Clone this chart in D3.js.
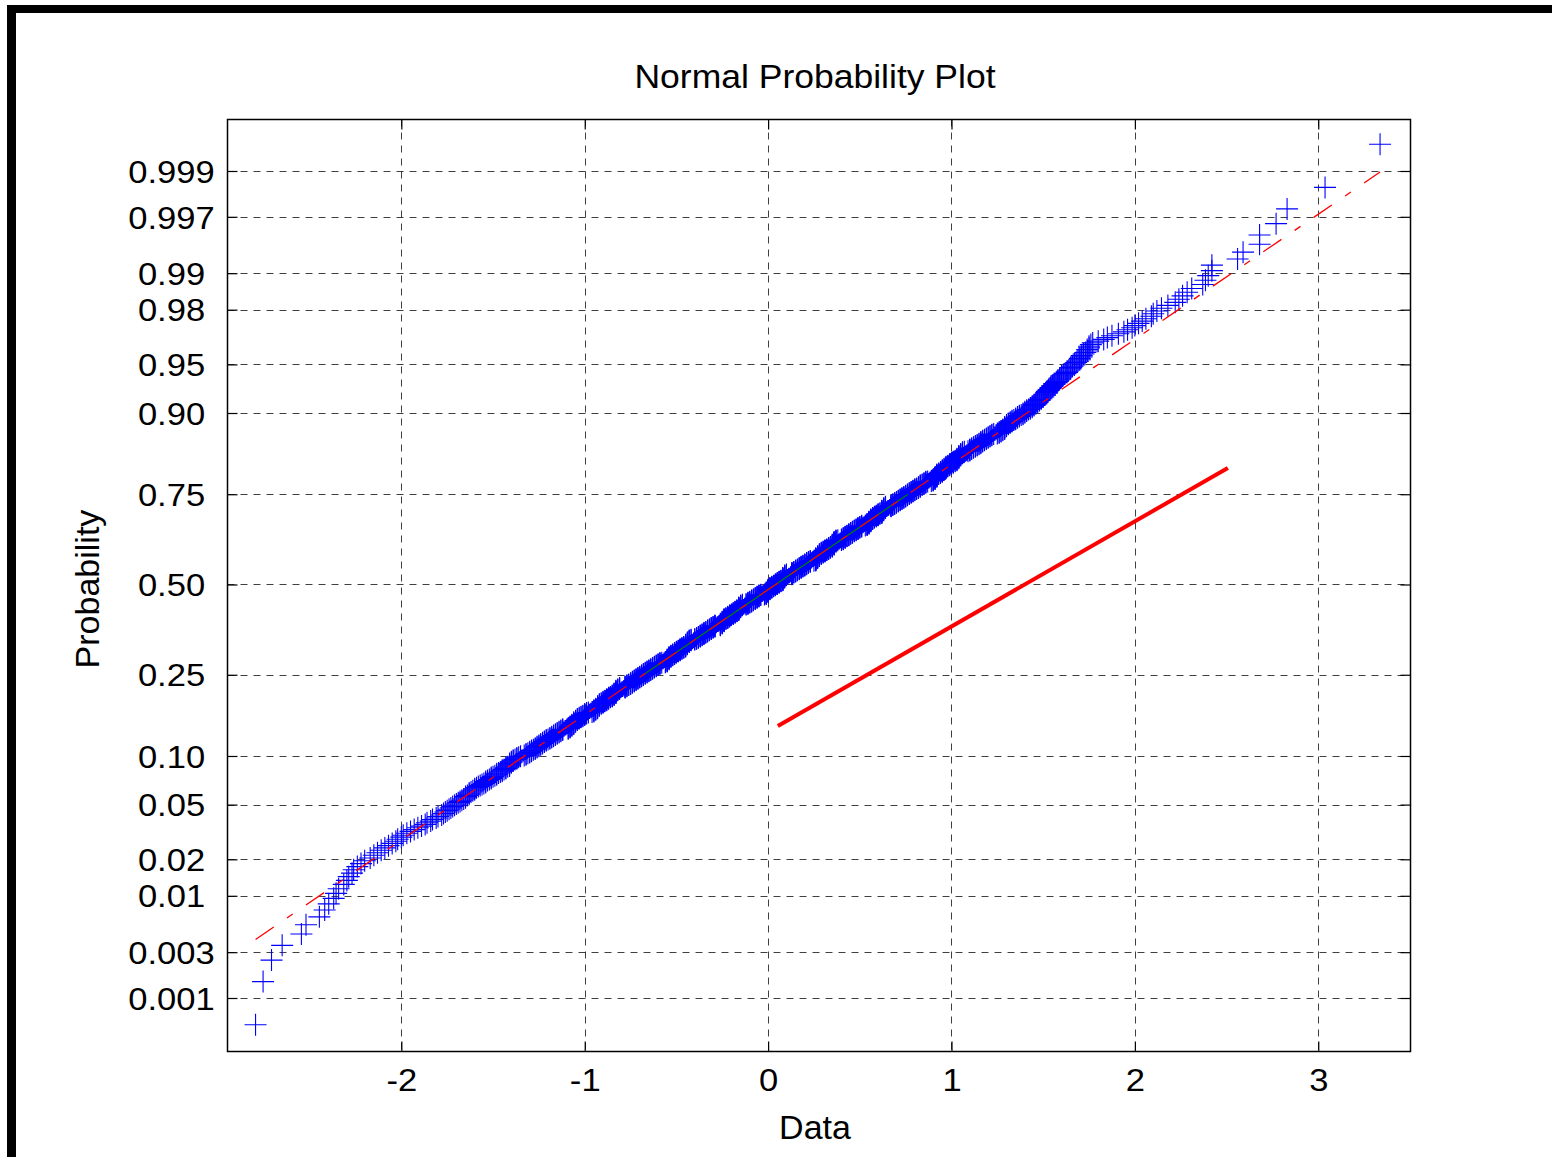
<!DOCTYPE html>
<html><head><meta charset="utf-8">
<script src="https://cdn.jsdelivr.net/npm/d3@7"></script>
<style>
body{margin:0;background:#fff}
svg{display:block}
text{font-family:"Liberation Sans",Arial,Helvetica,sans-serif;fill:#000}
</style>
</head><body>
<svg id="chart" width="1552" height="1157"></svg>
<script>
// ---- data (sample, n = 1000) ----
const sampleData = [
-2.795,-2.754,-2.708,-2.650,-2.545,-2.520,-2.447,-2.418,-2.396,-2.369,
-2.356,-2.342,-2.314,-2.297,-2.287,-2.269,-2.260,-2.24,-2.22,-2.20,
-2.17,-2.15,-2.13,-2.11,-2.09,-2.07,-2.05,-2.03,-2.02,-2.00,
-1.99,-1.97,-1.95,-1.93,-1.91,-1.89,-1.87,-1.86,-1.84,-1.83,
-1.81,-1.80,-1.78,-1.77,-1.76,-1.75,-1.74,-1.73,-1.72,-1.71,
-1.70,-1.69,-1.68,-1.67,-1.66,-1.65,-1.65,-1.64,-1.63,-1.63,
-1.62,-1.61,-1.60,-1.60,-1.59,-1.58,-1.57,-1.56,-1.55,-1.54,
-1.54,-1.53,-1.52,-1.51,-1.51,-1.50,-1.49,-1.48,-1.48,-1.47,
-1.46,-1.45,-1.45,-1.44,-1.43,-1.43,-1.42,-1.41,-1.41,-1.40,
-1.41,-1.41,-1.40,-1.39,-1.39,-1.38,-1.37,-1.37,-1.36,-1.35,
-1.33,-1.32,-1.32,-1.31,-1.30,-1.30,-1.29,-1.29,-1.28,-1.27,
-1.27,-1.26,-1.26,-1.25,-1.25,-1.24,-1.24,-1.23,-1.23,-1.22,
-1.22,-1.21,-1.21,-1.20,-1.19,-1.19,-1.18,-1.18,-1.17,-1.17,
-1.16,-1.16,-1.15,-1.15,-1.14,-1.14,-1.13,-1.13,-1.12,-1.12,
-1.09,-1.09,-1.08,-1.08,-1.08,-1.07,-1.07,-1.06,-1.06,-1.05,
-1.07,-1.06,-1.06,-1.05,-1.05,-1.04,-1.04,-1.04,-1.03,-1.03,
-1.02,-1.02,-1.01,-1.01,-1.00,-1.00,-1.00,-0.99,-0.99,-0.98,
-0.96,-0.95,-0.95,-0.95,-0.94,-0.94,-0.93,-0.93,-0.93,-0.92,
-0.94,-0.93,-0.93,-0.92,-0.92,-0.92,-0.91,-0.91,-0.90,-0.90,
-0.90,-0.89,-0.89,-0.88,-0.88,-0.88,-0.87,-0.87,-0.87,-0.86,
-0.86,-0.85,-0.85,-0.85,-0.84,-0.84,-0.83,-0.83,-0.83,-0.82,
-0.84,-0.84,-0.83,-0.83,-0.83,-0.82,-0.82,-0.81,-0.81,-0.81,
-0.78,-0.78,-0.78,-0.77,-0.77,-0.77,-0.76,-0.76,-0.75,-0.75,
-0.75,-0.74,-0.74,-0.74,-0.73,-0.73,-0.73,-0.72,-0.72,-0.72,
-0.71,-0.71,-0.71,-0.70,-0.70,-0.70,-0.69,-0.69,-0.69,-0.68,
-0.68,-0.68,-0.67,-0.67,-0.67,-0.66,-0.66,-0.66,-0.65,-0.65,
-0.65,-0.64,-0.64,-0.64,-0.63,-0.63,-0.63,-0.62,-0.62,-0.62,
-0.61,-0.61,-0.61,-0.60,-0.60,-0.60,-0.59,-0.59,-0.59,-0.58,
-0.56,-0.56,-0.55,-0.55,-0.55,-0.55,-0.54,-0.54,-0.54,-0.53,
-0.55,-0.55,-0.54,-0.54,-0.54,-0.53,-0.53,-0.53,-0.52,-0.52,
-0.52,-0.51,-0.51,-0.51,-0.51,-0.50,-0.50,-0.50,-0.49,-0.49,
-0.49,-0.48,-0.48,-0.48,-0.48,-0.47,-0.47,-0.47,-0.46,-0.46,
-0.46,-0.45,-0.45,-0.45,-0.45,-0.44,-0.44,-0.44,-0.43,-0.43,
-0.45,-0.45,-0.44,-0.44,-0.44,-0.43,-0.43,-0.43,-0.42,-0.42,
-0.40,-0.40,-0.39,-0.39,-0.39,-0.38,-0.38,-0.38,-0.37,-0.37,
-0.37,-0.37,-0.36,-0.36,-0.36,-0.35,-0.35,-0.35,-0.35,-0.34,
-0.34,-0.34,-0.33,-0.33,-0.33,-0.33,-0.32,-0.32,-0.32,-0.31,
-0.31,-0.31,-0.31,-0.30,-0.30,-0.30,-0.29,-0.29,-0.29,-0.29,
-0.26,-0.26,-0.26,-0.26,-0.25,-0.25,-0.25,-0.24,-0.24,-0.24,
-0.26,-0.25,-0.25,-0.25,-0.24,-0.24,-0.24,-0.24,-0.23,-0.23,
-0.23,-0.22,-0.22,-0.22,-0.22,-0.21,-0.21,-0.21,-0.21,-0.20,
-0.20,-0.20,-0.19,-0.19,-0.19,-0.19,-0.18,-0.18,-0.18,-0.18,
-0.17,-0.17,-0.17,-0.16,-0.16,-0.16,-0.16,-0.15,-0.15,-0.15,
-0.17,-0.16,-0.16,-0.16,-0.16,-0.15,-0.15,-0.15,-0.14,-0.14,
-0.12,-0.12,-0.11,-0.11,-0.11,-0.11,-0.10,-0.10,-0.10,-0.09,
-0.09,-0.09,-0.09,-0.08,-0.08,-0.08,-0.07,-0.07,-0.07,-0.07,
-0.06,-0.06,-0.06,-0.06,-0.05,-0.05,-0.05,-0.05,-0.04,-0.04,
-0.02,-0.01,-0.01,-0.01,-0.01,0.00,0.00,0.00,0.00,0.01,
-0.01,-0.01,0.00,0.00,0.00,0.00,0.01,0.01,0.01,0.01,
0.02,0.02,0.02,0.02,0.03,0.03,0.03,0.04,0.04,0.04,
0.04,0.05,0.05,0.05,0.05,0.06,0.06,0.06,0.06,0.07,
0.07,0.07,0.08,0.08,0.08,0.08,0.09,0.09,0.09,0.09,
0.08,0.08,0.08,0.08,0.09,0.09,0.09,0.10,0.10,0.10,
0.13,0.13,0.13,0.13,0.13,0.14,0.14,0.14,0.15,0.15,
0.15,0.15,0.16,0.16,0.16,0.17,0.17,0.17,0.17,0.18,
0.18,0.18,0.18,0.19,0.19,0.19,0.20,0.20,0.20,0.20,
0.21,0.21,0.21,0.21,0.22,0.22,0.22,0.23,0.23,0.23,
0.25,0.26,0.26,0.26,0.26,0.27,0.27,0.27,0.28,0.28,
0.26,0.26,0.26,0.27,0.27,0.27,0.28,0.28,0.28,0.28,
0.29,0.29,0.29,0.29,0.30,0.30,0.30,0.31,0.31,0.31,
0.31,0.32,0.32,0.32,0.33,0.33,0.33,0.33,0.34,0.34,
0.34,0.35,0.35,0.35,0.35,0.36,0.36,0.36,0.36,0.37,
0.35,0.35,0.36,0.36,0.36,0.36,0.37,0.37,0.37,0.38,
0.40,0.40,0.41,0.41,0.41,0.41,0.42,0.42,0.42,0.42,
0.43,0.43,0.43,0.44,0.44,0.44,0.44,0.45,0.45,0.45,
0.46,0.46,0.46,0.46,0.47,0.47,0.47,0.48,0.48,0.48,
0.49,0.49,0.49,0.49,0.50,0.50,0.50,0.51,0.51,0.51,
0.53,0.54,0.54,0.54,0.55,0.55,0.55,0.56,0.56,0.56,
0.54,0.55,0.55,0.55,0.56,0.56,0.56,0.57,0.57,0.57,
0.57,0.58,0.58,0.58,0.59,0.59,0.59,0.60,0.60,0.60,
0.60,0.61,0.61,0.62,0.62,0.62,0.62,0.63,0.63,0.63,
0.62,0.62,0.62,0.63,0.63,0.63,0.64,0.64,0.64,0.64,
0.67,0.67,0.67,0.68,0.68,0.68,0.69,0.69,0.69,0.70,
0.70,0.70,0.71,0.71,0.71,0.72,0.72,0.72,0.73,0.73,
0.73,0.74,0.74,0.74,0.75,0.75,0.75,0.76,0.76,0.76,
0.77,0.77,0.77,0.78,0.78,0.78,0.79,0.79,0.79,0.80,
0.80,0.80,0.81,0.81,0.82,0.82,0.82,0.83,0.83,0.83,
0.83,0.84,0.84,0.85,0.85,0.85,0.86,0.86,0.86,0.87,
0.89,0.90,0.90,0.90,0.91,0.91,0.91,0.92,0.92,0.92,
0.91,0.91,0.92,0.92,0.92,0.93,0.93,0.94,0.94,0.94,
0.95,0.95,0.95,0.95,0.96,0.96,0.96,0.97,0.97,0.97,
0.97,0.98,0.98,0.99,0.99,0.99,1.00,1.00,1.01,1.01,
1.01,1.02,1.02,1.03,1.03,1.03,1.04,1.04,1.05,1.05,
1.03,1.04,1.04,1.04,1.05,1.05,1.06,1.06,1.06,1.07,
1.09,1.10,1.10,1.10,1.11,1.11,1.12,1.12,1.13,1.13,
1.14,1.14,1.15,1.15,1.16,1.16,1.16,1.17,1.17,1.18,
1.18,1.19,1.19,1.20,1.20,1.21,1.21,1.22,1.22,1.23,
1.25,1.26,1.26,1.27,1.27,1.28,1.28,1.29,1.29,1.30,
1.29,1.29,1.30,1.30,1.31,1.31,1.32,1.32,1.33,1.33,
1.34,1.35,1.35,1.36,1.36,1.37,1.37,1.38,1.39,1.39,
1.40,1.40,1.41,1.41,1.42,1.43,1.43,1.44,1.44,1.45,
1.45,1.46,1.46,1.47,1.47,1.48,1.48,1.49,1.49,1.50,
1.50,1.51,1.51,1.52,1.52,1.52,1.53,1.53,1.54,1.54,
1.55,1.55,1.56,1.56,1.57,1.58,1.58,1.59,1.59,1.60,
1.60,1.61,1.62,1.63,1.63,1.64,1.65,1.65,1.66,1.67,
1.67,1.68,1.69,1.70,1.70,1.71,1.71,1.72,1.73,1.74,
1.74,1.75,1.75,1.76,1.77,1.80,1.83,1.85,1.875,1.91,
1.94,1.96,1.985,2.00,2.02,2.04,2.06,2.09,2.10,2.12,
2.145,2.18,2.22,2.24,2.26,2.285,2.31,2.37,2.385,2.40,
2.42,2.42,2.56,2.59,2.68,2.68,2.77,2.83,3.037,3.337
];
const probTicks = [0.001,0.003,0.01,0.02,0.05,0.10,0.25,0.50,0.75,0.90,0.95,0.98,0.99,0.997,0.999];
const probTickLabels = ["0.001","0.003","0.01","0.02","0.05","0.10","0.25","0.50","0.75","0.90","0.95","0.98","0.99","0.997","0.999"];
const xTicks = [-2,-1,0,1,2,3];
const xTickLabels = ["-2","-1","0","1","2","3"];
// extra reference line (data units, probability)
const refLineX = [0.053, 2.507];
const refLineP = [0.145, 0.808];
const titleText = "Normal Probability Plot";
const xLabelText = "Data";
const yLabelText = "Probability";

// ---- inverse normal CDF (probability axis transform) ----
function probit(p){
  const a=[-3.969683028665376e+01,2.209460984245205e+02,-2.759285104469687e+02,1.383577518672690e+02,-3.066479806614716e+01,2.506628277459239e+00];
  const b=[-5.447609879822406e+01,1.615858368580409e+02,-1.556989798598866e+02,6.680131188771972e+01,-1.328068155288572e+01];
  const c=[-7.784894002430293e-03,-3.223964580411365e-01,-2.400758277161838e+00,-2.549732539343734e+00,4.374664141464968e+00,2.938163982698783e+00];
  const d=[7.784695709041462e-03,3.224671290700398e-01,2.445134137142996e+00,3.754408661907416e+00];
  const pl=0.02425, ph=1-pl; let q,r;
  if(p<pl){q=Math.sqrt(-2*Math.log(p));return (((((c[0]*q+c[1])*q+c[2])*q+c[3])*q+c[4])*q+c[5])/((((d[0]*q+d[1])*q+d[2])*q+d[3])*q+1);}
  if(p>ph){q=Math.sqrt(-2*Math.log(1-p));return -(((((c[0]*q+c[1])*q+c[2])*q+c[3])*q+c[4])*q+c[5])/((((d[0]*q+d[1])*q+d[2])*q+d[3])*q+1);}
  q=p-0.5;r=q*q;return (((((a[0]*r+a[1])*r+a[2])*r+a[3])*r+a[4])*r+a[5])*q/(((((b[0]*r+b[1])*r+b[2])*r+b[3])*r+b[4])*r+1);
}

const W=1552,H=1157;
const L=227.5,R=1410.5,T=119.5,B=1051.5;
const svg=d3.select("#chart");
svg.append("rect").attr("width",W).attr("height",H).attr("fill","#fff");

const x=d3.scaleLinear().domain([-2.948,3.503]).range([L,R]);
const yz=d3.scaleLinear().domain([-3.49,3.475]).range([B,T]);
const yP=p=>yz(probit(p));

// grid
const grid=svg.append("g").attr("stroke","#000").attr("stroke-opacity",0.75).attr("stroke-width",1).attr("stroke-dasharray","7,6");
grid.selectAll("line.v").data(xTicks).join("line").attr("class","v")
  .attr("x1",d=>Math.round(x(d))+0.5).attr("x2",d=>Math.round(x(d))+0.5).attr("y1",T).attr("y2",B);
grid.selectAll("line.h").data(probTicks).join("line").attr("class","h")
  .attr("y1",d=>Math.round(yP(d))+0.5).attr("y2",d=>Math.round(yP(d))+0.5).attr("x1",L).attr("x2",R);

// data points
const sorted=sampleData.slice().sort((a,b)=>a-b);
const n=sorted.length;
const pts=sorted.map((v,i)=>({v,p:(i+0.5)/n}));
const plot=svg.append("g");
plot.selectAll("path.pt").data(pts).join("path").attr("class","pt")
  .attr("transform",d=>`translate(${x(d.v)},${yP(d.p)})`)
  .attr("d","M-11,0H11M0,-11V11")
  .attr("fill","none").attr("stroke","#0000ff").attr("stroke-width",1.1);

// fitted line through quartiles
const q1=d3.quantile(sorted,0.25), q3=d3.quantile(sorted,0.75);
const z1=probit(0.25), z3=probit(0.75);
const slope=(z3-z1)/(q3-q1);
const zAt=v=>z1+slope*(v-q1);
const xmin=sorted[0], xmax=sorted[n-1];
plot.append("line").attr("x1",x(q1)).attr("y1",yz(z1)).attr("x2",x(q3)).attr("y2",yz(z3))
  .attr("stroke","#008000").attr("stroke-width",1.2);
plot.append("line").attr("x1",x(xmin)).attr("y1",yz(zAt(xmin))).attr("x2",x(xmax)).attr("y2",yz(zAt(xmax)))
  .attr("stroke","#ff0000").attr("stroke-width",1.3).attr("stroke-dasharray","22,16,7,16");

// thick red reference line
plot.append("line").attr("x1",x(refLineX[0])).attr("y1",yP(refLineP[0])).attr("x2",x(refLineX[1])).attr("y2",yP(refLineP[1]))
  .attr("stroke","#ff0000").attr("stroke-width",4).attr("stroke-linecap","butt");

// axes (ticks inward on all four sides)
const zTickVals=probTicks.map(probit);
const fmtY=z=>probTickLabels[zTickVals.indexOf(z)];
const axL=svg.append("g").attr("transform",`translate(${L},0)`)
  .call(d3.axisLeft(yz).tickValues(zTickVals).tickFormat(fmtY).tickSize(-10));
const axR=svg.append("g").attr("transform",`translate(${R},0)`)
  .call(d3.axisRight(yz).tickValues(zTickVals).tickFormat("").tickSize(-10));
const axB=svg.append("g").attr("transform",`translate(0,${B})`)
  .call(d3.axisBottom(x).tickValues(xTicks).tickFormat((d,i)=>xTickLabels[i]).tickSize(-10));
const axT=svg.append("g").attr("transform",`translate(0,${T})`)
  .call(d3.axisTop(x).tickValues(xTicks).tickFormat("").tickSize(-10));
[axL,axR,axB,axT].forEach(a=>{a.select(".domain").remove();a.selectAll(".tick line").attr("stroke","#000").attr("stroke-width",1.2);});

axL.selectAll("text").attr("x",171.5-L).attr("dy","0.35em").attr("text-anchor","middle")
  .style("font-size","32px").style("font-family",'"Liberation Sans",Arial,sans-serif');
axB.selectAll("text").attr("y",39.5).attr("dy","0").attr("text-anchor","middle")
  .style("font-size","32px").style("font-family",'"Liberation Sans",Arial,sans-serif');
[axL,axB].forEach(a=>a.selectAll("text").each(function(){
  const w=this.getComputedTextLength();
  this.setAttribute("textLength",w*1.08);
  this.setAttribute("lengthAdjust","spacingAndGlyphs");
}));

// box
svg.append("rect").attr("x",L).attr("y",T).attr("width",R-L).attr("height",B-T)
  .attr("fill","none").attr("stroke","#000").attr("stroke-width",1.5);

// titles
const t=svg.append("text").attr("x",815).attr("y",88).attr("text-anchor","middle")
  .style("font-size","33px").text(titleText);
t.attr("textLength",t.node().getComputedTextLength()*1.076).attr("lengthAdjust","spacingAndGlyphs");
svg.append("text").attr("x",815).attr("y",1139).attr("text-anchor","middle")
  .style("font-size","34px").text(xLabelText);
svg.append("text").attr("transform","translate(99,589) rotate(-90)").attr("text-anchor","middle")
  .style("font-size","34px").text(yLabelText);

// figure frame
svg.append("rect").attr("x",7).attr("y",5).attr("width",W-7).attr("height",8).attr("fill","#000");
svg.append("rect").attr("x",7).attr("y",5).attr("width",9).attr("height",H-5).attr("fill","#000");
</script>
</body></html>
